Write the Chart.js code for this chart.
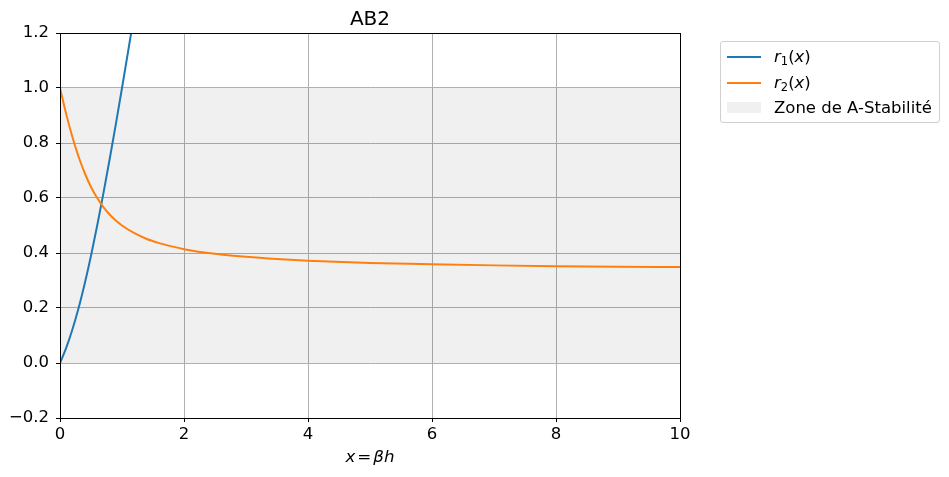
<!DOCTYPE html>
<html>
<head>
  <title>AB2</title>
  <script src="https://cdn.jsdelivr.net/npm/chart.js"></script>
  <style>
    body { margin: 0; background: #fff; font-family: "DejaVu Sans", sans-serif; }
    #wrap { position: relative; width: 949px; height: 477px; }
    #title { position: absolute; left: 60px; width: 620px; top: 6px; text-align: center; font-size: 20px; }
    #xlabel { position: absolute; left: 60px; width: 620px; top: 446px; text-align: center; font-size: 16.7px; }
    #legend { position: absolute; left: 720px; top: 41px; width: 220px; height: 82px;
              border: 1px solid #d0d0d0; border-radius: 3px; box-sizing: border-box; font-size: 16.5px; }
    .row { position: absolute; left: 6px; height: 26px; }
    .swatch { position: absolute; left: 0; width: 34px; }
    .lbl { position: absolute; left: 47px; white-space: nowrap; }
    sub { font-size: 11.5px; font-style: normal; vertical-align: -3px; }
  </style>
</head>
<body>
  <div id="wrap">
    <canvas id="chart" width="949" height="477"></canvas>
    <div id="title">AB2</div>
    <div id="xlabel"><i>x</i><span style="margin:0 2px">=</span><i>βh</i></div>
    <div id="legend">
      <div class="row" style="top:3px"><div class="swatch" style="top:11px;height:2px;background:#1f77b4"></div><div class="lbl" style="top:2px"><i>r</i><sub>1</sub>(<i>x</i>)</div></div>
      <div class="row" style="top:29px"><div class="swatch" style="top:11px;height:2px;background:#ff7f0e"></div><div class="lbl" style="top:2px"><i>r</i><sub>2</sub>(<i>x</i>)</div></div>
      <div class="row" style="top:55px"><div class="swatch" style="top:5px;height:11px;background:#f0f0f0"></div><div class="lbl" style="top:1px">Zone de A-Stabilité</div></div>
    </div>
  </div>

  <script>
    // r1(x), blue curve (goes off the top past x ~ 1.15)
    const r1X = [0, 0.1, 0.2, 0.3, 0.4, 0.5, 0.6, 0.7, 0.8, 0.9, 1.0, 1.1, 1.2, 1.3];
    const r1Y = [0, 0.055, 0.122, 0.200, 0.290, 0.390, 0.500, 0.617, 0.740, 0.868, 1.000, 1.135, 1.272, 1.411];

    // r2(x), orange curve
    const r2X = [0, 0.1, 0.2, 0.3, 0.4, 0.5, 0.6, 0.7, 0.8, 0.9, 1.0, 1.2, 1.4, 1.6, 1.8, 2, 2.5, 3, 3.5, 4, 5, 6, 7, 8, 9, 10];
    const r2Y = [1.000, 0.905, 0.822, 0.750, 0.690, 0.640, 0.600, 0.567, 0.540, 0.518, 0.500, 0.472, 0.451, 0.436, 0.424,
                 0.414, 0.397, 0.386, 0.378, 0.372, 0.364, 0.359, 0.355, 0.352, 0.350, 0.349];

    // stability zone 0..1
    const zoneX = [0, 10];
    const zoneTop = [1, 1];
    const zoneBase = 0;

    const xTicks = [0, 2, 4, 6, 8, 10];
    const yTicks = [-0.2, 0, 0.2, 0.4, 0.6, 0.8, 1.0, 1.2];

    const pts = (xs, ys) => xs.map((x, i) => ({ x: x, y: ys[i] }));

    const frame = {
      id: 'frame',
      afterDatasetsDraw(chart) {
        const a = chart.chartArea, c = chart.ctx;
        c.save();
        c.strokeStyle = '#000';
        c.lineWidth = 1;
        c.strokeRect(Math.round(a.left) + 0.5, Math.round(a.top) + 0.5, Math.round(a.right - a.left), Math.round(a.bottom - a.top));
        c.restore();
      }
    };

    const tickFont = { family: 'DejaVu Sans', size: 16.5 };

    new Chart(document.getElementById('chart'), {
      type: 'line',
      data: {
        datasets: [
          { label: 'r1(x)', data: pts(r1X, r1Y), borderColor: '#1f77b4', borderWidth: 2, pointRadius: 0,
            cubicInterpolationMode: 'monotone', fill: false, order: 2 },
          { label: 'r2(x)', data: pts(r2X, r2Y), borderColor: '#ff7f0e', borderWidth: 2, pointRadius: 0,
            cubicInterpolationMode: 'monotone', fill: false, order: 1 },
          { label: 'Zone de A-Stabilité', data: pts(zoneX, zoneTop), borderWidth: 0, pointRadius: 0,
            backgroundColor: 'rgba(0,0,0,0.06)', fill: { value: zoneBase }, order: 3 }
        ]
      },
      options: {
        responsive: false,
        devicePixelRatio: 1,
        animation: false,
        layout: { padding: { left: 0, right: 269, top: 33, bottom: 0 } },
        plugins: { legend: { display: false }, tooltip: { enabled: false } },
        scales: {
          x: {
            type: 'linear', min: 0, max: 10,
            afterFit: s => { s.height = 59; },
            afterBuildTicks: s => { s.ticks = xTicks.map(v => ({ value: v })); },
            ticks: { font: tickFont, color: '#000', padding: 3, maxRotation: 0, callback: v => String(v) },
            grid: { color: '#b0b0b0', lineWidth: 1, tickColor: '#000', tickLength: 4 },
            border: { color: '#000', width: 1 }
          },
          y: {
            min: -0.2, max: 1.2,
            afterFit: s => { s.width = 60; },
            afterBuildTicks: s => { s.ticks = yTicks.map(v => ({ value: v })); },
            ticks: { font: tickFont, color: '#000', padding: 7,
              callback: v => (Math.abs(v) < 1e-9 ? '0.0' : v.toFixed(1).replace('-', '\u2212')) },
            grid: { color: '#b0b0b0', lineWidth: 1, tickColor: '#000', tickLength: 4 },
            border: { color: '#000', width: 1 }
          }
        }
      },
      plugins: [frame]
    });
  </script>
</body>
</html>
